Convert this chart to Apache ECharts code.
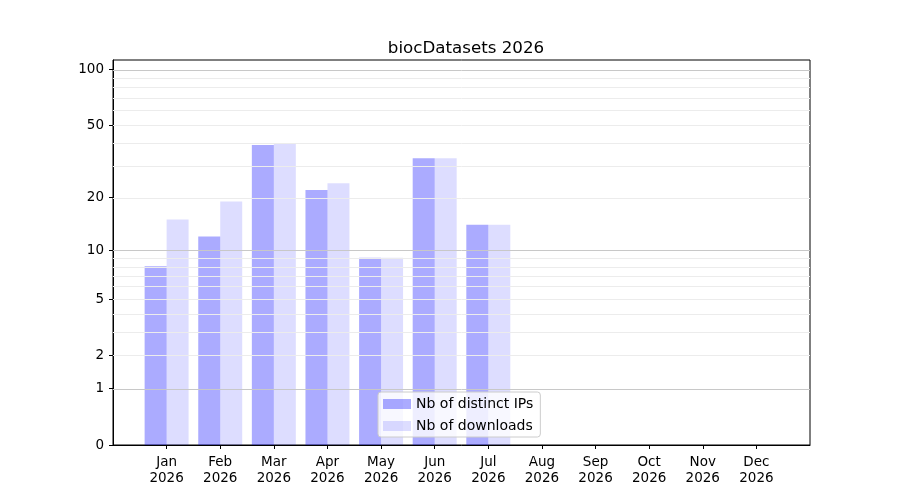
<!DOCTYPE html>
<html>
<head>
<meta charset="utf-8">
<script src="https://cdn.jsdelivr.net/npm/echarts@6/dist/echarts.min.js"></script>
<style>html,body{margin:0;padding:0;background:#fff;}#c{width:900px;height:500px;}</style>
</head>
<body>
<div id="c"></div>
<script>
const titleText = 'biocDatasets 2026';
const months = ['Jan','Feb','Mar','Apr','May','Jun','Jul','Aug','Sep','Oct','Nov','Dec'];
const yearLabel = '2026';
const distinctIPs = [8, 12, 39, 22, 9, 33, 14, null, null, null, null, null];
const downloads = [15, 19, 40, 24, 9, 33, 14, null, null, null, null, null];
const yTickLabels = [0, 1, 2, 5, 10, 20, 50, 100];
const majorGrid = [1, 10, 100];
const minorGrid = [2, 3, 4, 5, 6, 7, 8, 9, 20, 30, 40, 50, 60, 70, 80, 90];
const yMaxRaw = 112.8;

const tf = v => Math.log10(1 + v);
const cats = [''].concat(months).concat(['']);
const pad = arr => [null].concat(arr.map(v => v == null ? null : tf(v))).concat([null]);
const FONT = 'DejaVu Sans';

const gridMarks = [];
majorGrid.forEach(v => gridMarks.push({yAxis: tf(v), lineStyle: {color: '#c8c8c8', width: 1, type: 'solid'}}));
minorGrid.forEach(v => gridMarks.push({yAxis: tf(v), lineStyle: {color: '#ececec', width: 1, type: 'solid'}}));

const chart = echarts.init(document.getElementById('c'), null, {renderer: 'canvas'});
chart.setOption({
  animation: false,
  backgroundColor: '#fff',
  title: {
    text: titleText, left: 461, top: 35, textAlign: 'center',
    textStyle: {fontFamily: FONT, fontSize: 16.7, fontWeight: 'normal', color: '#000'}
  },
  grid: {left: 113, right: 90, top: 60, bottom: 55, show: true, borderColor: '#000', borderWidth: 1, backgroundColor: 'transparent', containLabel: false},
  legend: {
    data: ['Nb of distinct IPs', 'Nb of downloads'],
    orient: 'vertical', left: 378, top: 392,
    itemWidth: 28, itemHeight: 10, itemGap: 8,
    padding: [5, 7, 4, 5],
    borderColor: '#cccccc', borderWidth: 1, borderRadius: 3,
    backgroundColor: 'rgba(255,255,255,0.8)',
    textStyle: {fontFamily: FONT, fontSize: 14, color: '#000'},
    icon: 'rect'
  },
  xAxis: {
    type: 'category', data: cats, boundaryGap: false,
    axisLine: {lineStyle: {color: '#000', width: 1}},
    axisTick: {length: 4, lineStyle: {color: '#000'}, interval: (i) => i > 0 && i < cats.length - 1},
    axisLabel: {
      interval: 0, margin: 9, color: '#000', fontFamily: FONT, fontSize: 13.5, lineHeight: 16,
      formatter: (v) => v ? v + '\n' + yearLabel : ''
    },
    splitLine: {show: false}
  },
  yAxis: {
    type: 'value', min: 0, max: tf(yMaxRaw),
    axisLine: {show: true, lineStyle: {color: '#000', width: 1}},
    axisTick: {show: true, length: 4, lineStyle: {color: '#000'}, customValues: yTickLabels.map(tf)},
    axisLabel: {
      color: '#000', fontFamily: FONT, fontSize: 13.5, margin: 9,
      customValues: yTickLabels.map(tf),
      formatter: (v) => String(Math.round(Math.pow(10, v) - 1))
    },
    splitLine: {show: false}
  },
  series: [
    {
      name: 'gridlines', type: 'line', data: [], z: 0, silent: true,
      markLine: {silent: true, symbol: ['none', 'none'], label: {show: false}, animation: false, data: gridMarks}
    },
    {
      name: 'Nb of distinct IPs', type: 'bar', data: pad(distinctIPs), z: 2,
      barWidth: 22, barGap: '0%',
      itemStyle: {color: 'rgba(0,0,255,0.33)'}
    },
    {
      name: 'Nb of downloads', type: 'bar', data: pad(downloads), z: 2,
      barWidth: 22, barGap: '0%',
      itemStyle: {color: 'rgba(0,0,255,0.133)'}
    }
  ]
});
</script>
</body>
</html>
